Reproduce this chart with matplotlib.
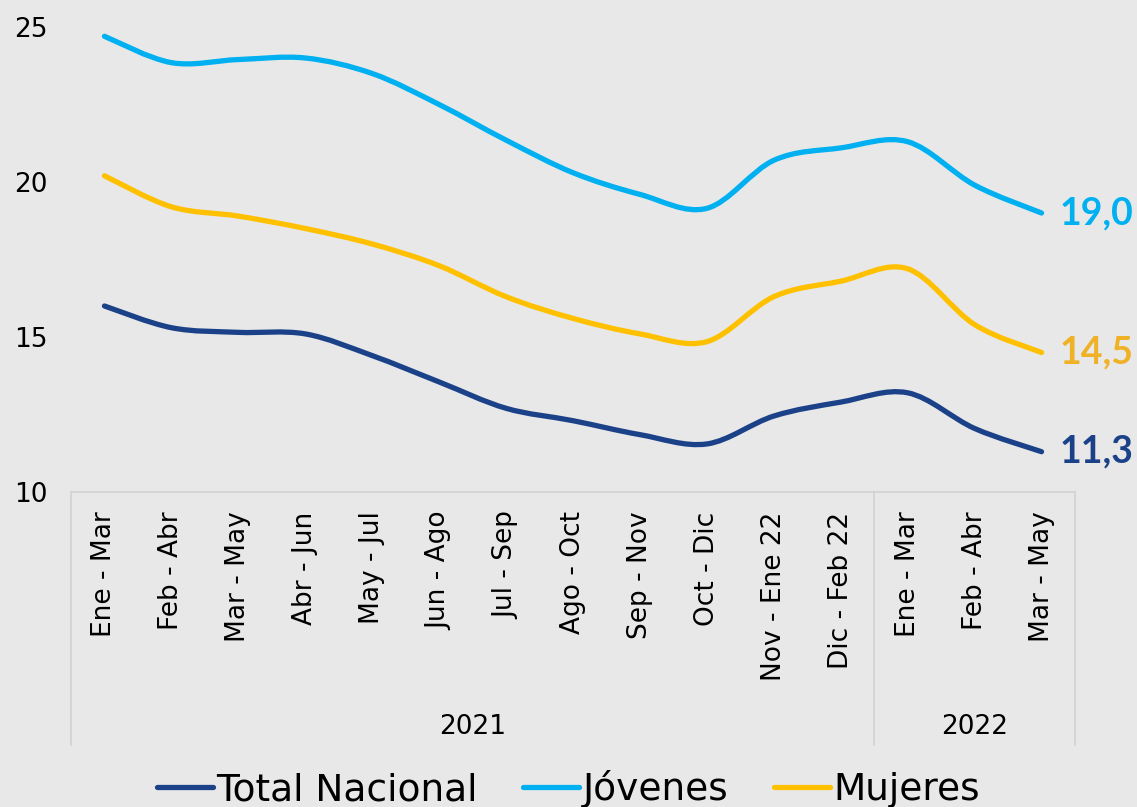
import numpy as np
import matplotlib
matplotlib.use("Agg")
import matplotlib.pyplot as plt
from matplotlib.path import Path
from matplotlib.patches import PathPatch
from matplotlib.lines import Line2D
import matplotlib.transforms as mtransforms

# data
periodos = ["Ene - Mar", "Feb - Abr", "Mar - May", "Abr - Jun", "May - Jul",
            "Jun - Ago", "Jul - Sep", "Ago - Oct", "Sep - Nov", "Oct - Dic",
            "Nov - Ene 22", "Dic - Feb 22", "Ene - Mar", "Feb - Abr", "Mar - May"]
anios = ["2021", "2022"]
n_por_anio = [12, 3]

total = [16.0, 15.3, 15.15, 15.1, 14.4, 13.55, 12.7, 12.3, 11.85, 11.55,
         12.45, 12.9, 13.2, 12.05, 11.3]
jovenes = [24.7, 23.85, 23.95, 24.0, 23.5, 22.5, 21.35, 20.3, 19.6, 19.15,
           20.7, 21.1, 21.3, 19.9, 19.0]
mujeres = [20.2, 19.2, 18.9, 18.5, 18.0, 17.3, 16.3, 15.6, 15.1, 14.85,
           16.3, 16.8, 17.2, 15.4, 14.5]

series = [("Total Nacional", total, "#1b4288", "#1b4288"),
          ("Jóvenes", jovenes, "#00b0f0", "#00b0f0"),
          ("Mujeres", mujeres, "#ffc000", "#efb227")]

plt.rcParams['font.family'] = ['DejaVu Sans']
bg = "#e8e8e8"


def smooth_path(x, y):
    # Catmull-Rom style bezier, like the smoothed line in a spreadsheet chart
    pts = np.column_stack([x, y]).astype(float)
    ext = np.vstack([pts[0], pts, pts[-1]])
    verts = [pts[0]]
    codes = [Path.MOVETO]
    for i in range(len(pts) - 1):
        p0, p1, p2, p3 = ext[i], ext[i + 1], ext[i + 2], ext[i + 3]
        c1 = p1 + (p2 - p0) / 6
        c2 = p2 - (p3 - p1) / 6
        verts += [c1, c2, p2]
        codes += [Path.CURVE4] * 3
    return Path(verts, codes)


fig = plt.figure(figsize=(11.37, 8.07), dpi=100, facecolor=bg)
ax = fig.add_axes([71 / 1137, 315 / 807, 1004 / 1137, 465 / 807])
ax.set_facecolor(bg)

x = np.arange(len(periodos))
handles = []
for name, vals, col, lblcol in series:
    ax.add_patch(PathPatch(smooth_path(x, vals), fill=False, edgecolor=col,
                           lw=3.8, capstyle='round', joinstyle='round'))
    ax.annotate(f"{vals[-1]:.1f}".replace(".", ","), (x[-1], vals[-1]),
                xytext=(13, 0), textcoords="offset points", va="center",
                ha="left", fontsize=27, fontweight="bold", color=lblcol,
                family=["Lato", "DejaVu Sans"], annotation_clip=False)
    handles.append(Line2D([], [], color=col, lw=3.8, solid_capstyle='round'))

ax.set_xlim(-0.5, len(periodos) - 0.5)
ax.set_ylim(10, 25)
ax.set_yticks([10, 15, 20, 25])
ax.set_xticks(x)
ax.set_xticklabels(periodos, rotation=90, fontsize=19)
ax.tick_params(axis='x', length=0, pad=14)
ax.tick_params(axis='y', length=0, pad=17, labelsize=19)
for s in ["top", "right", "left"]:
    ax.spines[s].set_visible(False)
ax.spines["bottom"].set_color("#d2d2d2")
ax.spines["bottom"].set_linewidth(1.2)

# two-level category axis: year separators and labels
trans = mtransforms.blended_transform_factory(ax.transData, ax.transAxes)
bounds = np.concatenate([[0], np.cumsum(n_por_anio)]) - 0.5
for b in bounds:
    ax.plot([b, b], [0, -0.545], transform=trans, color="#d2d2d2", lw=1.2,
            clip_on=False)
for i, a in enumerate(anios):
    ax.text((bounds[i] + bounds[i + 1]) / 2, -0.505, a, transform=trans,
            ha="center", va="center", fontsize=19)

fig.legend(handles, [s[0] for s in series], loc="center",
           bbox_to_anchor=(0.5, 0.022), ncol=3, frameon=False, fontsize=27,
           handlelength=1.5, handletextpad=0.1, columnspacing=1.2)

fig.savefig("out.png", dpi=100, facecolor=bg)
